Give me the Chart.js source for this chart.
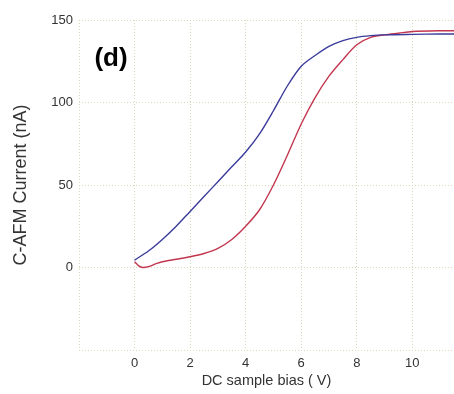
<!DOCTYPE html>
<html>
<head>
<meta charset="utf-8">
<script src="https://cdn.jsdelivr.net/npm/chart.js@4"></script>
<style>
  html, body { margin: 0; padding: 0; background: #fff; }
  #wrap { width: 454px; height: 394px; }
</style>
</head>
<body>
<div id="wrap"><canvas id="ivChart"></canvas></div>
<script>
// bias (V) and current (nA)
const biasBlue = [0, 0.5, 1, 1.5, 2, 2.5, 3, 3.5, 4, 4.5, 5, 5.5, 6, 6.5, 7, 7.5, 8, 8.5, 9, 10, 11, 11.6];
const currentBlue = [4.5, 10, 17, 25, 34, 43, 52, 61, 70, 81, 95, 110, 122, 128.5, 134, 137.5, 139.5, 140.5, 141, 141.3, 141.5, 141.5];

const biasRed = [0, 0.15, 0.3, 0.5, 0.8, 1, 1.5, 2, 2.5, 3, 3.5, 4, 4.5, 5, 5.5, 6, 6.5, 7, 7.5, 8, 8.5, 9, 9.5, 10, 11, 11.6];
const currentRed = [3.5, 1, 0, 0.5, 2.5, 3.5, 5, 6.5, 8.5, 11.6, 17, 25, 35, 50, 68, 87, 103, 116, 126, 135, 139.5, 141, 142, 143, 143.5, 143.5];

const xTicks = [0, 2, 4, 6, 8, 10];
const yTicks = [0, 50, 100, 150];

const sans = '"Liberation Sans", Arial, sans-serif';
const gridColor = 'rgba(214, 214, 180, 0.9)';

function toPoints(xs, ys) {
  return xs.map((x, i) => ({ x: x, y: ys[i] }));
}

// the "(d)" panel tag in the top left
const panelTag = {
  id: 'panelTag',
  afterDraw(chart) {
    const ctx = chart.ctx;
    ctx.save();
    ctx.font = 'bold 26px ' + sans;
    ctx.fillStyle = '#000';
    ctx.textAlign = 'center';
    ctx.textBaseline = 'middle';
    ctx.fillText('(d)', 111, 59);
    ctx.restore();
  }
};

new Chart(document.getElementById('ivChart'), {
  type: 'scatter',
  data: {
    datasets: [
      {
        label: 'forward',
        data: toPoints(biasBlue, currentBlue),
        showLine: true,
        borderColor: '#3b3b9c',
        borderWidth: 1.4,
        pointRadius: 0,
        tension: 0.3
      },
      {
        label: 'reverse',
        data: toPoints(biasRed, currentRed),
        showLine: true,
        borderColor: '#c2374f',
        borderWidth: 1.4,
        pointRadius: 0,
        tension: 0.3
      }
    ]
  },
  options: {
    responsive: true,
    maintainAspectRatio: false,
    animation: false,
    layout: { padding: { top: 20, right: 0, left: 0, bottom: 0 } },
    plugins: {
      legend: { display: false },
      tooltip: { enabled: false }
    },
    scales: {
      x: {
        type: 'linear',
        min: -2,
        max: 11.5,
        afterFit(scale) { scale.height = 44; },
        afterBuildTicks(scale) {
          scale.ticks = [-2].concat(xTicks).map(v => ({ value: v }));
        },
        ticks: {
          padding: 6,
          color: '#333',
          font: { family: sans, size: 13 },
          callback: v => (xTicks.includes(v) ? String(v) : '')
        },
        grid: { color: gridColor, drawTicks: false },
        border: { display: false, dash: [1, 2] },
        title: {
          display: true,
          text: 'DC sample bias ( V)',
          color: '#333',
          font: { family: sans, size: 14.5 },
          padding: { top: 0, bottom: 4 }
        }
      },
      y: {
        type: 'linear',
        min: -50,
        max: 150,
        afterFit(scale) { scale.width = 79; },
        afterBuildTicks(scale) {
          scale.ticks = [-50].concat(yTicks).map(v => ({ value: v }));
        },
        ticks: {
          padding: 6,
          color: '#333',
          font: { family: sans, size: 13 },
          callback: v => (yTicks.includes(v) ? String(v) : '')
        },
        grid: { color: gridColor, drawTicks: false },
        border: { display: false, dash: [1, 2] },
        title: {
          display: true,
          text: 'C-AFM Current (nA)',
          color: '#333',
          font: { family: sans, size: 18 },
          padding: { top: 10, bottom: 0 }
        }
      }
    }
  },
  plugins: [panelTag]
});
</script>
</body>
</html>
